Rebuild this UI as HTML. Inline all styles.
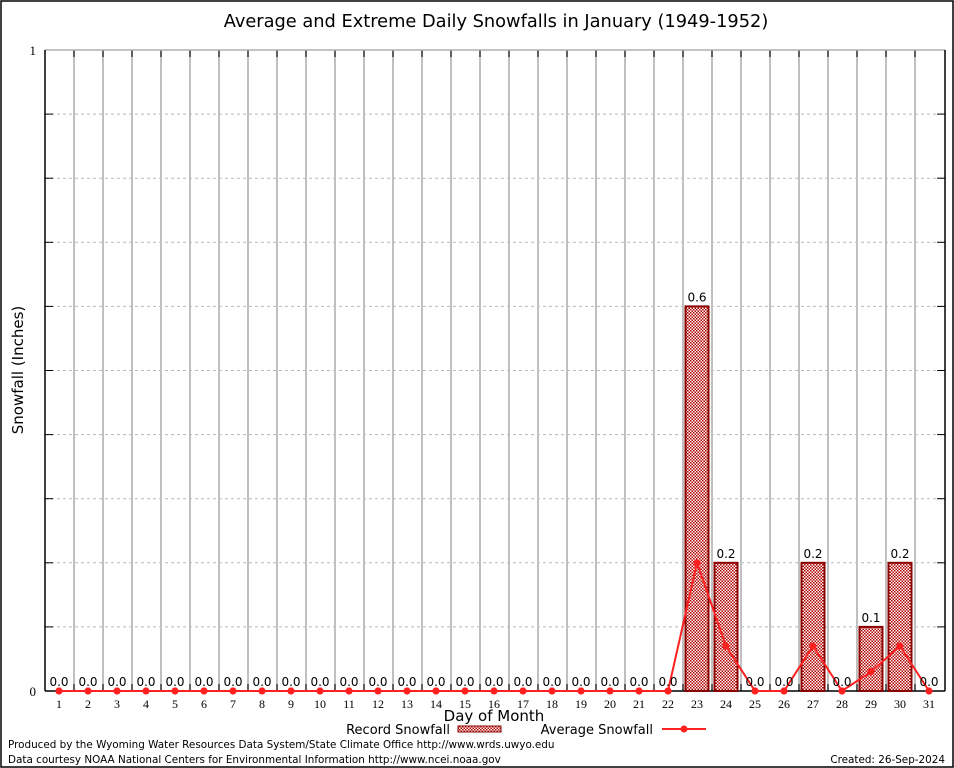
<!DOCTYPE html>
<html><head><meta charset="utf-8"><style>
html,body{margin:0;padding:0;background:#fff;}
svg{display:block;}
</style></head><body>
<svg id="chart" width="954" height="768" xmlns="http://www.w3.org/2000/svg">
<defs>
<pattern id="chk" width="3" height="3" patternUnits="userSpaceOnUse">
<rect width="3" height="3" fill="#fff"/><rect width="1.5" height="1.5" fill="#b00000"/><rect x="1.5" y="1.5" width="1.5" height="1.5" fill="#b00000"/>
</pattern>
</defs>
<rect x="1" y="1" width="952" height="766" fill="#fff" stroke="#000" stroke-width="1.5"/>
<text x="496" y="27" text-anchor="middle" font-family="DejaVu Sans, Liberation Sans, sans-serif" font-size="17.8">Average and Extreme Daily Snowfalls in January (1949-1952)</text>
<g id="grid"></g>
<g id="bars"></g>
<g id="line"></g>
<g id="labels"></g>
<text transform="translate(23,370) rotate(-90)" text-anchor="middle" font-family="DejaVu Sans, Liberation Sans, sans-serif" font-size="15">Snowfall (Inches)</text>
<text x="494" y="721" text-anchor="middle" font-family="DejaVu Sans, Liberation Sans, sans-serif" font-size="15">Day of Month</text>
<g>
<text x="450" y="734" text-anchor="end" font-family="DejaVu Sans, Liberation Sans, sans-serif" font-size="13">Record Snowfall</text>
<rect x="458" y="726" width="43" height="6" fill="url(#chk)" stroke="#8b0000"/>
</g>
<g>
<text x="653" y="734" text-anchor="end" font-family="DejaVu Sans, Liberation Sans, sans-serif" font-size="13">Average Snowfall</text>
<line x1="662" y1="729" x2="706" y2="729" stroke="#ff2020" stroke-width="2"/>
<circle cx="684" cy="729" r="3.5" fill="#ff2020"/>
</g>
<text x="8" y="748" font-family="DejaVu Sans, Liberation Sans, sans-serif" font-size="10.4">Produced by the Wyoming Water Resources Data System/State Climate Office http://www.wrds.uwyo.edu</text>
<text x="8" y="763" font-family="DejaVu Sans, Liberation Sans, sans-serif" font-size="10.4">Data courtesy NOAA National Centers for Environmental Information http://www.ncei.noaa.gov</text>
<text x="945" y="763" text-anchor="end" font-family="DejaVu Sans, Liberation Sans, sans-serif" font-size="10.4">Created:  26-Sep-2024</text>
</svg>
<script>
const days = [];
for (let d = 1; d <= 31; d++) days.push(d);
const recordSnow = [0,0,0,0,0,0,0,0,0,0,0,0,0,0,0,0,0,0,0,0,0,0,0.6,0.2,0,0,0.2,0,0.1,0.2,0];
const avgSnow = [0,0,0,0,0,0,0,0,0,0,0,0,0,0,0,0,0,0,0,0,0,0,0.2,0.07,0,0,0.07,0,0.03,0.07,0];
const yTicks = [0,0.1,0.2,0.3,0.4,0.5,0.6,0.7,0.8,0.9,1];
const yTickLabels = ["0","","","","","","","","","","1"];

const NS = "http://www.w3.org/2000/svg";
const L = 45, R = 945, T = 50, B = 691;
const xS = d => 59 + (d - 1) * 29;
const yS = v => B - v * (B - T);
function mk(tag, attrs, parent) {
  const e = document.createElementNS(NS, tag);
  for (const k in attrs) e.setAttribute(k, attrs[k]);
  parent.appendChild(e);
  return e;
}
const grid = document.getElementById('grid');
const bars = document.getElementById('bars');
const line = document.getElementById('line');
const labels = document.getElementById('labels');
const serif = "Liberation Serif, DejaVu Serif, serif";
const sans = "DejaVu Sans, Liberation Sans, sans-serif";

yTicks.forEach((t, i) => {
  const y = yS(t);
  if (t > 0 && t < 1) {
    const g = mk('line', {x1: L, x2: R, y1: y, y2: y, stroke: '#b8b8b8', 'stroke-dasharray': '3,3'}, grid);
    
    
  }
  mk('line', {x1: L, x2: L + 8, y1: y, y2: y, stroke: '#000'}, grid);
  mk('line', {x1: R, x2: R - 8, y1: y, y2: y, stroke: '#000'}, grid);
  if (yTickLabels[i]) {
    const tx = mk('text', {x: 36, y: y + 5, 'text-anchor': 'end', 'font-family': serif, 'font-size': 13}, grid);
    tx.textContent = yTickLabels[i];
    
    
  }
});
for (let k = 1; k < days.length; k++) {
  const x = L + k * 29;
  const v = mk('line', {x1: x, x2: x, y1: T, y2: B, stroke: '#c0c0c0', 'stroke-width': 2}, grid);
  
  
  mk('line', {x1: x, x2: x, y1: T, y2: T + 7, stroke: '#000'}, grid);
  mk('line', {x1: x, x2: x, y1: B, y2: B - 7, stroke: '#000'}, grid);
}
mk('line', {x1: L, x2: R, y1: T, y2: T, stroke: '#b0b0b0', 'stroke-width': 1.5}, grid);
mk('line', {x1: R, x2: R, y1: T, y2: B, stroke: '#000', 'stroke-width': 1.5}, grid);
mk('line', {x1: L, x2: L, y1: T, y2: B, stroke: '#000', 'stroke-width': 1.5}, grid);
mk('line', {x1: L, x2: R, y1: B, y2: B, stroke: '#000', 'stroke-width': 1.5}, grid);

days.forEach((d, i) => {
  const v = recordSnow[i];
  const x = xS(d);
  if (v > 0) {
    const b = mk('rect', {x: x - 11.5, y: yS(v), width: 23, height: B - yS(v), fill: 'url(#chk)', stroke: '#8b0000', 'stroke-width': 2}, bars);
    
    
  }
  const lt = mk('text', {x: x, y: yS(v) - 5, 'text-anchor': 'middle', 'font-family': sans, 'font-size': 12}, labels);
  lt.textContent = v.toFixed(1);
  
  
  const xt = mk('text', {x: x, y: 708, 'text-anchor': 'middle', 'font-family': serif, 'font-size': 12}, labels);
  xt.textContent = d;
  
  
});
const pts = days.map((d, i) => xS(d) + ',' + yS(avgSnow[i])).join(' ');
const pl = mk('polyline', {points: pts, fill: 'none', stroke: '#ff2020', 'stroke-width': 2}, line);


days.forEach((d, i) => {
  const c = mk('circle', {cx: xS(d), cy: yS(avgSnow[i]), r: 3.6, fill: '#ff2020'}, line);
  
  
});
</script>
</body></html>
